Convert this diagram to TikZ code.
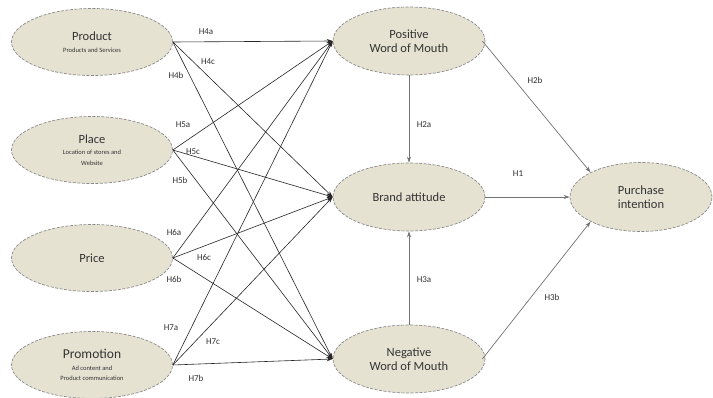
\documentclass[tikz,border=0pt]{standalone}
\usepackage{fontspec}
\setmainfont{Carlito}
\usetikzlibrary{arrows.meta,shapes.geometric}
\definecolor{ellfill}{HTML}{E6E2D2}
\definecolor{ellline}{HTML}{8A8A8A}
\newcommand{\subtxt}{\fontsize{6.5}{8}\selectfont}
\tikzset{
  constr/.style={ellipse,draw=ellline,dashed,dash pattern=on 3pt off 1.5pt,fill=ellfill,line width=0.7pt,inner sep=0pt,font=\fontsize{12.5}{13.5}\selectfont,text=black!80,align=center},
  leftell/.style={constr,minimum width=161pt,minimum height=67pt},
  midell/.style={constr,minimum width=152pt,minimum height=68pt},
  conn/.style={-{Stealth[length=6pt,width=4pt]},line width=0.6pt,black!85},
  gconn/.style={-{Stealth[length=6pt,width=4pt]},line width=0.7pt,black!55},
  hlab/.style={font=\fontsize{9}{10}\selectfont,text=black!80,inner sep=0pt}
}
\begin{document}
\begin{tikzpicture}[x=1pt,y=-1pt]
\useasboundingbox (0,0) rectangle (713,398);
\fill[white] (0,0) rectangle (713,398);
% left constructs
\node[leftell] (prod) at (92,42) {Product\\[-2pt]{\subtxt Products and Services}};
\node[leftell] (place) at (92,150) {Place\\[-2pt]{\subtxt Location of stores and}\\[-3pt]{\subtxt Website}};
\node[leftell] (price) at (92,258) {Price};
\node[leftell] (promo) at (92,365) {\fontsize{13.5}{14}\selectfont Promotion\\[-2pt]{\subtxt Ad content and}\\[-3pt]{\subtxt Product communication}};
% middle constructs
\node[midell] (pwom) at (409,41) {Positive\\Word of Mouth};
\node[midell] (ba) at (409,197) {Brand attitude};
\node[midell] (nwom) at (409,359) {Negative\\Word of Mouth};
% right construct
\node[constr,minimum width=142pt,minimum height=69pt] (pi) at (641,197) {Purchase\\intention};
% connectors from marketing mix
\foreach \s in {prod,place,price,promo}{
  \draw[conn] (\s.east) -- (pwom.west);
  \draw[conn] (\s.east) -- (ba.west);
  \draw[conn] (\s.east) -- (nwom.west);
}
% structural paths
\draw[gconn] (pwom.south) -- (ba.north);
\draw[gconn] (nwom.north) -- (ba.south);
\draw[gconn] (ba.east) -- (pi.west);
\draw[gconn] (pwom.east) ++(-3,0) coordinate (pwe) (pwe) -- (pi.north west);
\draw[gconn] (nwom.east) ++(-3,0) coordinate (nwe) (nwe) -- (pi.south west);
% labels
\node[hlab] (l4a) at (206,32) {H4a};
\node[hlab] (l4c) at (208,62) {H4c};
\node[hlab] (l4b) at (176,75) {H4b};
\node[hlab] (l5a) at (183,125) {H5a};
\node[hlab] (l5c) at (193,152) {H5c};
\node[hlab] (l5b) at (180,180) {H5b};
\node[hlab] (l6a) at (174,232) {H6a};
\node[hlab] (l6c) at (204,257) {H6c};
\node[hlab] (l6b) at (174,279) {H6b};
\node[hlab] (l7a) at (171,328) {H7a};
\node[hlab] (l7c) at (213,342) {H7c};
\node[hlab] (l7b) at (196,378) {H7b};
\node[hlab] (l2a) at (424,125) {H2a};
\node[hlab] (l2b) at (535,80) {H2b};
\node[hlab] (l1) at (518,174) {H1};
\node[hlab] (l3a) at (424,280) {H3a};
\node[hlab] (l3b) at (552,297) {H3b};
\end{tikzpicture}
\end{document}
